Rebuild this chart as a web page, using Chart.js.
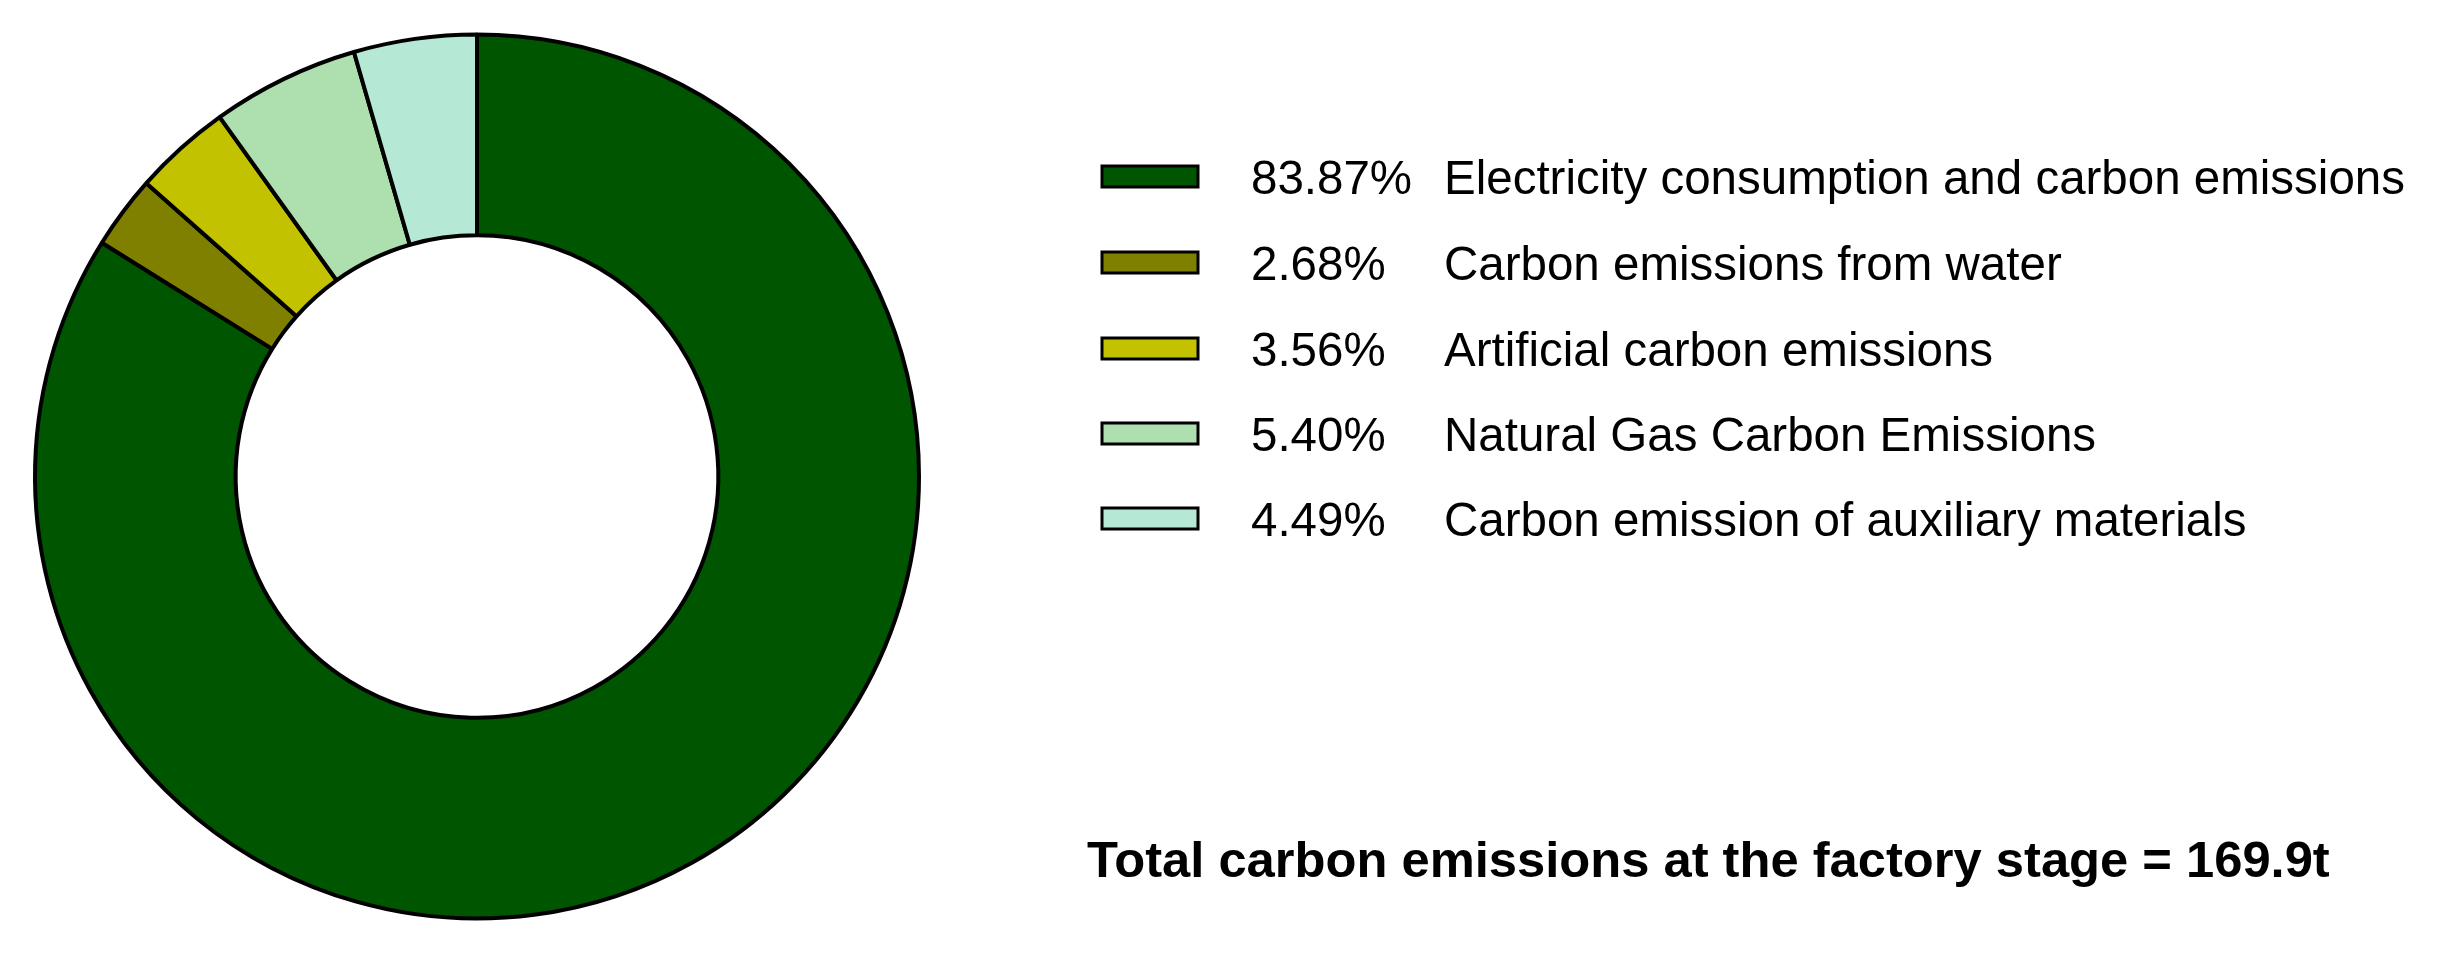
<!DOCTYPE html>
<html>
<head>
<meta charset="utf-8">
<script src="https://cdn.jsdelivr.net/npm/chart.js@4"></script>
<style>
  html, body { margin: 0; padding: 0; background: #fff; }
  #wrap { width: 2448px; height: 960px; }
</style>
</head>
<body>
<div id="wrap"><canvas id="donut" width="2448" height="960"></canvas></div>
<script>
// chart data
const categories = [
    'Electricity consumption and carbon emissions',
    'Carbon emissions from water',
    'Artificial carbon emissions',
    'Natural Gas Carbon Emissions',
    'Carbon emission of auxiliary materials'
];
const shares = [83.87, 2.68, 3.56, 5.40, 4.49];
const colors = ['#005500', '#7f7f00', '#c2c200', '#aedfae', '#b5e8d5'];
const totalLabel = 'Total carbon emissions at the factory stage = 169.9t';

const FONT = '"Liberation Sans", Arial, sans-serif';

// legend + total text drawn on the same canvas
const sideText = {
    id: 'sideText',
    afterDraw(chart) {
        const ctx = chart.ctx;
        ctx.save();
        const rowY = [176, 262, 348, 433, 518];
        categories.forEach((name, i) => {
            const y = rowY[i];
            ctx.fillStyle = colors[i];
            ctx.fillRect(1102, y - 10, 96, 21);
            ctx.lineWidth = 3;
            ctx.strokeStyle = '#000';
            ctx.strokeRect(1102, y - 10, 96, 21);

            ctx.fillStyle = '#000';
            ctx.font = '47.5px ' + FONT;
            ctx.textBaseline = 'alphabetic';
            ctx.textAlign = 'left';
            ctx.fillText(shares[i].toFixed(2) + '%', 1251, y + 18);
            ctx.fillText(name, 1444, y + 18);
        });
        ctx.font = 'bold 50.7px ' + FONT;
        ctx.fillText(totalLabel, 1087, 877);
        ctx.restore();
    }
};

const ctxDonut = document.getElementById('donut').getContext('2d');
const donut = new Chart(ctxDonut, {
    type: 'doughnut',
    data: {
        labels: categories,
        datasets: [{
            data: shares,
            backgroundColor: colors,
            borderColor: '#000',
            borderWidth: 4
        }]
    },
    options: {
        responsive: false,
        animation: false,
        radius: 442,
        cutout: '54.6%',
        layout: {
            padding: { left: 0, right: 2448 - 954, top: 0, bottom: 7 }
        },
        plugins: {
            legend: { display: false },
            tooltip: { enabled: false }
        }
    },
    plugins: [sideText]
});
</script>
</body>
</html>
